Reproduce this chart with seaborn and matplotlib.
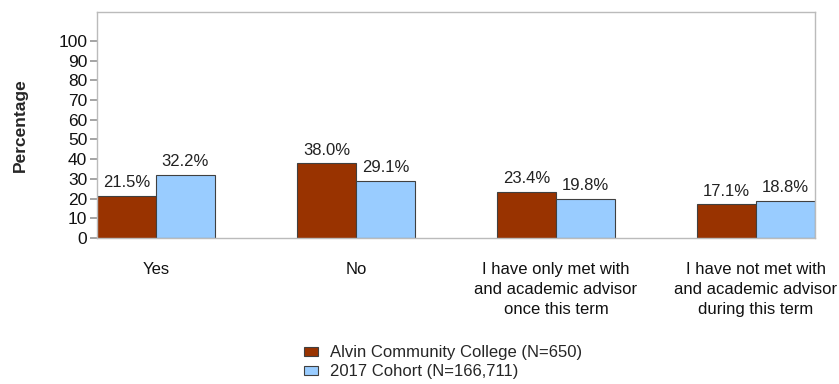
import matplotlib
matplotlib.use("Agg")
import matplotlib.pyplot as plt
import seaborn as sns
import pandas as pd

categories = [
    "Yes",
    "No",
    "I have only met with\nand academic advisor\nonce this term",
    "I have not met with\nand academic advisor\nduring this term",
]
college = [21.5, 38.0, 23.4, 17.1]
cohort = [32.2, 29.1, 19.8, 18.8]
series = ["Alvin Community College (N=650)", "2017 Cohort (N=166,711)"]
colors = ["#993300", "#99CCFF"]
yticks = list(range(0, 101, 10))

df = pd.DataFrame({
    "category": categories * 2,
    "value": college + cohort,
    "series": [series[0]] * 4 + [series[1]] * 4,
})

sns.set_theme(style="white")
plt.rcParams["font.family"] = ["Liberation Sans", "DejaVu Sans"]

fig = plt.figure(figsize=(8.39, 3.84), dpi=100)
ax = fig.add_axes([97 / 839, 1 - 238 / 384, (815 - 97) / 839, (238 - 12) / 384])

sns.barplot(data=df, x="category", y="value", hue="series", order=categories,
            hue_order=series, palette=colors, width=0.59, saturation=1,
            edgecolor="#404040", linewidth=0.8, ax=ax, legend=False)

for cont in ax.containers:
    ax.bar_label(cont, fmt="%.1f%%", padding=4, fontsize=12, color="#222222")

ax.set_xlim(-0.295, 3.295)
ax.set_ylim(0, 114.7)
ax.set_yticks(yticks)
ax.tick_params(axis="y", labelsize=12.5, length=5, color="#999999", left=True,
               pad=2, labelcolor="#111111")
ax.tick_params(axis="x", labelsize=12, length=0, pad=17, labelcolor="#111111")
for lab in ax.get_xticklabels():
    lab.set_linespacing(1.45)
for s in ax.spines.values():
    s.set_color("#bbbbbb")
    s.set_linewidth(1)
ax.set_xlabel("")
ax.set_ylabel("Percentage", fontsize=12.5, fontweight="bold", labelpad=22)

handles = [plt.Rectangle((0, 0), 1, 1, facecolor=c, edgecolor="#404040", linewidth=0.8)
           for c in colors]
fig.legend(handles, series, loc="upper left", bbox_to_anchor=(304 / 839, 1 - 345 / 384),
           frameon=False, fontsize=12, handlelength=0.85, handleheight=0.45,
           handletextpad=0.7, labelspacing=0.25, borderaxespad=0, borderpad=0)

fig.savefig("out.png", dpi=100, facecolor="white")
